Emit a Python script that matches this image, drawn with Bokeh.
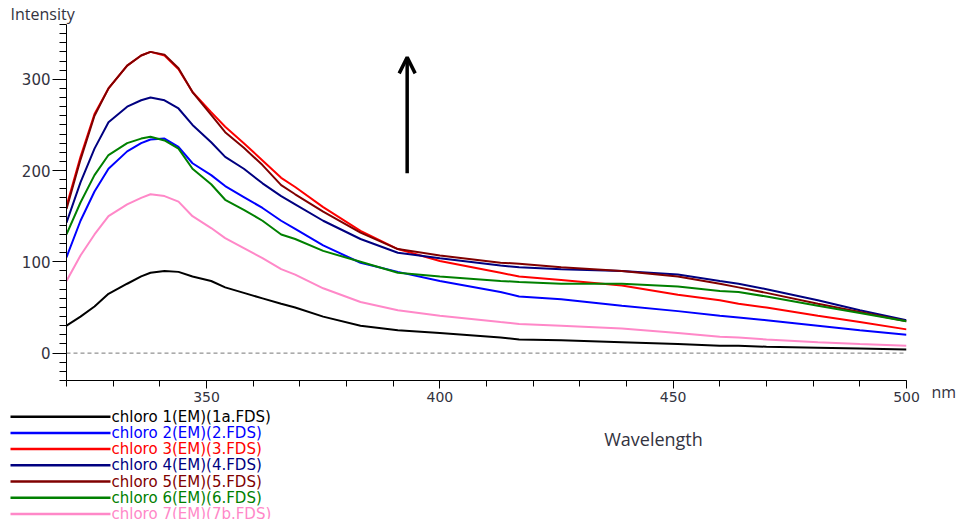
from bokeh.plotting import figure
from bokeh.layouts import column, row
from bokeh.models import (Range1d, SingleIntervalTicker, Span, Arrow, Title,
                          OpenHead, ColumnDataSource)
from bokeh.core.properties import value
from bokeh.embed import file_html
from bokeh.resources import INLINE

# ---------------- data ----------------
wavelength = [320, 323, 326, 329, 333, 336, 338, 341, 344, 347, 351, 354, 358, 362,
              366, 369, 375, 383, 391, 400, 413, 417, 426, 439, 451, 460, 464, 470,
              481, 490, 500]
chloro1 = [30, 40, 51, 65, 76, 84, 88, 90, 89, 84, 79, 72, 66, 60, 54, 50, 40, 30, 25,
           22, 17, 15, 14, 12, 10, 8, 8, 7, 6, 5, 4]
chloro2 = [105, 145, 177, 202, 221, 230, 234, 235, 226, 208, 195, 183, 171, 159, 145,
           136, 118, 99, 89, 79, 67, 62, 59, 52, 46, 41, 39, 36, 30, 25, 20]
chloro3 = [161, 215, 262, 290, 315, 326, 330, 326, 311, 286, 264, 248, 230, 211, 192,
           182, 160, 134, 114, 101, 88, 84, 80, 74, 64, 58, 54, 50, 41, 34, 26]
chloro4 = [143, 187, 224, 253, 270, 277, 280, 277, 268, 250, 231, 215, 202, 186, 172,
           163, 145, 125, 110, 104, 96, 94, 92, 90, 86, 79, 76, 70, 58, 47, 36]
chloro5 = [158, 212, 260, 290, 315, 326, 330, 327, 312, 286, 261, 242, 225, 206, 184,
           174, 155, 132, 114, 107, 99, 98, 94, 90, 84, 76, 72, 66, 54, 45, 35]
chloro6 = [130, 165, 195, 217, 230, 235, 237, 233, 224, 202, 185, 168, 157, 145, 130,
           125, 112, 100, 88, 84, 79, 78, 76, 76, 73, 68, 67, 62, 52, 44, 35]
chloro7 = [79, 107, 130, 150, 163, 170, 174, 172, 166, 150, 137, 126, 115, 104, 92,
           86, 71, 56, 47, 41, 34, 32, 30, 27, 22, 18, 17, 15, 12, 10, 8]

series = [chloro1, chloro2, chloro3, chloro4, chloro5, chloro6, chloro7]
series_names = ["chloro 1(EM)(1a.FDS)", "chloro 2(EM)(2.FDS)", "chloro 3(EM)(3.FDS)",
                "chloro 4(EM)(4.FDS)", "chloro 5(EM)(5.FDS)", "chloro 6(EM)(6.FDS)",
                "chloro 7(EM)(7b.FDS)"]
colors = ["#000000", "#0000ff", "#ff0000", "#000080", "#800000", "#008000", "#ff88c8"]

AX_FONT = "DejaVu Sans"
LBL_FONT = "Open Sans"
TXT = "#333340"
MAIN_H = 407

# ---------------- main plot ----------------
p = figure(width=920, height=MAIN_H,
           x_range=Range1d(320, 500), y_range=Range1d(-30, 360),
           output_backend="svg", toolbar_location=None,
           min_border_left=66, min_border_right=14, min_border_top=20,
           min_border_bottom=MAIN_H - 380)
p.xgrid.visible = False
p.ygrid.visible = False
p.outline_line_color = None

p.title.text = "Intensity"
p.title.align = "left"
p.title.offset = -56
p.title.standoff = 0
p.title.vertical_align = "bottom"
p.title.text_font = LBL_FONT
p.title.text_font_size = "16px"
p.title.text_font_style = "normal"
p.title.text_color = TXT

p.xaxis.ticker = SingleIntervalTicker(interval=50, num_minor_ticks=5)
p.yaxis.ticker = SingleIntervalTicker(interval=100, num_minor_ticks=10)
for ax in (p.xaxis[0], p.yaxis[0]):
    ax.axis_line_color = "black"
    ax.major_tick_line_color = "black"
    ax.minor_tick_line_color = "black"
    ax.major_tick_in = 0
    ax.minor_tick_in = 0
    ax.major_label_text_font = AX_FONT
    ax.major_label_text_color = TXT
p.yaxis.major_label_text_font_size = "15px"
p.xaxis.major_label_text_font_size = "14px"
p.yaxis.major_tick_out = 14
p.yaxis.minor_tick_out = 7
p.yaxis.major_label_standoff = 2
p.xaxis.major_tick_out = 8
p.xaxis.minor_tick_out = 6
p.xaxis.major_label_standoff = 3

p.add_layout(Span(location=0, dimension="width", line_color="#777777",
                  line_dash="4 3", line_width=1))

for ys, c in zip(series, colors):
    p.line(wavelength, ys, line_color=c, line_width=2)

p.add_layout(Arrow(end=OpenHead(size=16, line_width=3.5, line_color="black"),
                   x_start=393, y_start=197, x_end=393, y_end=324,
                   line_width=3.5, line_color="black"))

# ---------------- "nm" strip to the right ----------------
nm = figure(width=40, height=MAIN_H, x_range=Range1d(0, 1), y_range=Range1d(0, 1),
            output_backend="svg", toolbar_location=None,
            x_axis_type=None, y_axis_type=None, min_border=0,
            min_border_left=0, min_border_right=0, min_border_top=0,
            min_border_bottom=0)
nm.xgrid.visible = False
nm.ygrid.visible = False
nm.outline_line_color = None
nm.add_layout(Title(text="nm", align="left", offset=11, standoff=0,
                    vertical_align="top", text_font=LBL_FONT, text_font_size="16px",
                    text_font_style="normal", text_color=TXT), "below")

# ---------------- legend strip ----------------
leg = figure(width=960, height=519 - MAIN_H, x_range=Range1d(0, 960),
             y_range=Range1d(519, MAIN_H),
             output_backend="svg", toolbar_location=None,
             x_axis_type=None, y_axis_type=None, min_border=0,
             min_border_left=0, min_border_right=0, min_border_top=0,
             min_border_bottom=0)
leg.xgrid.visible = False
leg.ygrid.visible = False
leg.outline_line_color = None

row_y = [416.2 + 16.2 * i for i in range(len(series_names))]
src = ColumnDataSource(dict(x0=[10] * 7, x1=[110] * 7, xt=[111] * 7, y=row_y,
                            name=series_names, color=colors))
leg.segment(x0="x0", y0="y", x1="x1", y1="y", line_color="color", line_width=2.5,
            source=src)
leg.text(x="xt", y="y", text="name", text_color="color", text_font=value(AX_FONT),
         text_font_size="15px", text_baseline="middle", text_align="left", source=src)
leg.text(x=[653], y=[438], text=["Wavelength"], text_color=TXT,
         text_font=value(LBL_FONT), text_font_size="18px", text_baseline="middle",
         text_align="center")

layout = column(row(p, nm, spacing=0), leg, spacing=0)
open("out.html", "w").write(file_html(layout, INLINE))
